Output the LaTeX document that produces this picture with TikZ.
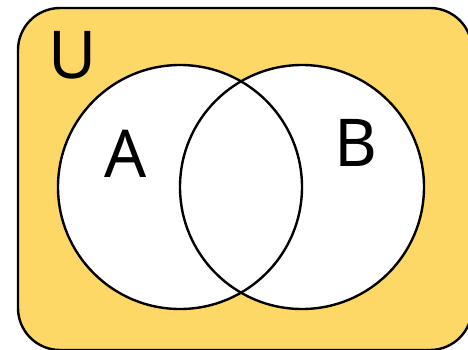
\documentclass[tikz,border=0pt]{standalone}
\usepackage{fontspec}
\setmainfont{Noto Sans}
\definecolor{uyellow}{HTML}{FDD866}
\begin{document}
\begin{tikzpicture}[x=1pt,y=-1pt,
  setline/.style={line width=2.4pt,draw=black},
  lbl/.style={font=\fontsize{66}{66}\selectfont,inner sep=0pt,anchor=center}]
\useasboundingbox (0,0) rectangle (468,349);
\begin{scope}
\clip (0,0) rectangle (468,349);
\draw[setline,fill=uyellow,rounded corners=42pt] (18,8) rectangle (472,350);
\end{scope}
\fill[white] (180,187) circle (122);
\fill[white] (302,187) circle (122);
\node[setline,circle,minimum size=244pt,inner sep=0pt] (A) at (180,187) {};
\node[setline,circle,minimum size=244pt,inner sep=0pt] (B) at (302,187) {};
\node[lbl] (lu) at (73,55) {U};
\node[lbl] (la) at (126,154) {A};
\node[lbl] (lb) at (356,143) {B};
\end{tikzpicture}
\end{document}
